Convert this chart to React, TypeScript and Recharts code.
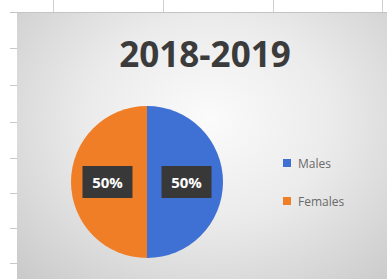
import { PieChart, Pie, Cell, Legend } from 'recharts';

const categories = ['Males', 'Females'];
const shares = [50, 50];
const colors = ['#3f70d3', '#f07e27'];
const chartTitle = '2018-2019';

const data = categories.map((name, i) => ({ name, value: shares[i], color: colors[i] }));

const RADIAN = Math.PI / 180;

function renderLabel(props: any) {
  const { cx, cy, midAngle, outerRadius, percent } = props;
  const r = outerRadius * 0.52;
  const x = cx + r * Math.cos(-midAngle * RADIAN);
  const y = cy + r * Math.sin(-midAngle * RADIAN);
  return (
    <g>
      <rect x={x - 25} y={y - 16} width={50} height={32} fill="#383838" />
      <text
        x={x}
        y={y}
        fill="#ffffff"
        textAnchor="middle"
        dominantBaseline="central"
        fontFamily="'Open Sans', sans-serif"
        fontWeight={700}
        fontSize={15}
      >
        {`${Math.round(percent * 100)}%`}
      </text>
    </g>
  );
}

function LegendContent({ payload }: any) {
  // keep the series order (legend sorts by name otherwise)
  const items = [...(payload || [])].sort(
    (a: any, b: any) => categories.indexOf(a.value) - categories.indexOf(b.value)
  );
  return (
    <div style={{ fontFamily: "'Open Sans', sans-serif", fontSize: 12, color: '#6a6a6a' }}>
      {items.map((entry: any, i: number) => (
        <div key={i} style={{ display: 'flex', alignItems: 'center', height: 20, marginBottom: i === 0 ? 18 : 0 }}>
          <span style={{ width: 8, height: 8, background: entry.color, display: 'inline-block', marginRight: 7 }} />
          <span>{entry.value}</span>
        </div>
      ))}
    </div>
  );
}

const rowLines = [48, 85, 122, 158, 193, 228, 263];
const colLines = [53, 163, 273, 382];

export default function App() {
  return (
    <div style={{ position: 'absolute', left: 0, top: 0, width: 387, height: 279, background: '#ffffff', overflow: 'hidden' }}>
      {colLines.map((x) => (
        <div key={x} style={{ position: 'absolute', left: x, top: 0, width: 1, height: 12, background: '#d0d0d0' }} />
      ))}
      {rowLines.map((y) => (
        <div key={y} style={{ position: 'absolute', left: 10, top: y, width: 7, height: 1, background: '#c8c8c8' }} />
      ))}
      <div style={{ position: 'absolute', left: 10, top: 12, width: 377, height: 1, background: '#c4c4c4' }} />
      <div
        style={{
          position: 'absolute',
          left: 17,
          top: 13,
          width: 370,
          height: 266,
          background: 'radial-gradient(ellipse at 52% 40%, #fbfbfb 0%, #ebebeb 45%, #c9c9c9 100%)',
        }}
      >
        <div
          style={{
            position: 'absolute',
            left: 0,
            top: 21,
            width: 376,
            textAlign: 'center',
            fontFamily: "'Open Sans', sans-serif",
            fontWeight: 700,
            fontSize: 35,
            lineHeight: '40px',
            color: '#3b3b3b',
          }}
        >
          {chartTitle}
        </div>
        <PieChart width={370} height={266} margin={{ top: 0, right: 0, bottom: 0, left: 0 }}>
          <Pie
            data={data}
            dataKey="value"
            nameKey="name"
            cx={130}
            cy={169}
            outerRadius={76}
            startAngle={90}
            endAngle={-270}
            stroke="none"
            label={renderLabel}
            labelLine={false}
            isAnimationActive={false}
          >
            {data.map((entry, index) => (
              <Cell key={`cell-${index}`} fill={entry.color} />
            ))}
          </Pie>
          <Legend
            layout="vertical"
            content={<LegendContent />}
            wrapperStyle={{ position: 'absolute', left: 266, top: 140, width: 100 }}
          />
        </PieChart>
      </div>
    </div>
  );
}
